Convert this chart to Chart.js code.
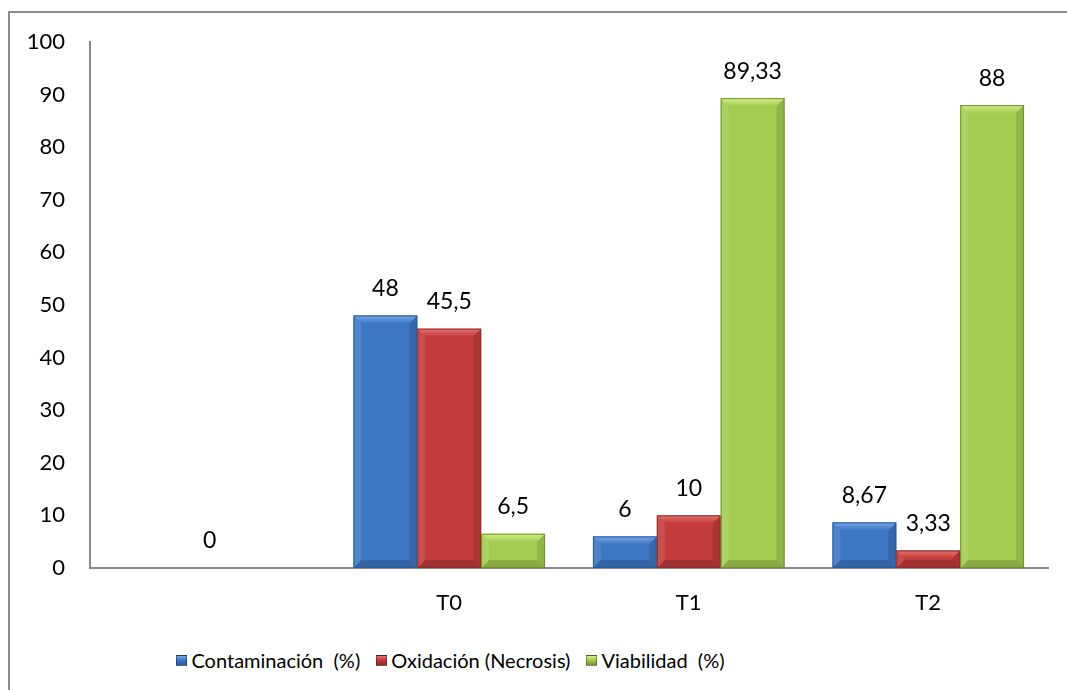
<!DOCTYPE html>
<html lang="es">
<head>
<meta charset="utf-8">
<title>Contaminación, oxidación y viabilidad por tratamiento</title>
<script src="https://cdn.jsdelivr.net/npm/chart.js@4.4.1/dist/chart.umd.min.js"></script>
<style>
  html, body { margin: 0; padding: 0; background: #fff; }
  #wrap { position: relative; width: 1067px; height: 690px; overflow: hidden; font-family: Lato, 'Open Sans', sans-serif; }
  #frame { position: absolute; left: 8px; top: 11px; width: 1100px; height: 720px; border-left: 2px solid #8c8c8c; border-top: 2px solid #8c8c8c; }
  #box { position: absolute; left: 0; top: 0; width: 1067px; height: 640px; }
  #legend { position: absolute; left: 0; top: 648px; width: 1067px; display: flex; justify-content: center; padding-right: 166px; box-sizing: border-box; font-size: 20px; color: #000; }
  #legend .item { display: flex; align-items: center; margin-right: 16px; white-space: pre; }
  #legend .item:last-child { margin-right: 0; }
  #legend i { display: inline-block; width: 11px; height: 11px; margin-right: 4px; border: 1px solid rgba(0,0,0,0.35); box-sizing: border-box; }
</style>
</head>
<body>
<div id="wrap">
  <div id="frame"></div>
  <div id="box"><canvas id="barChart"></canvas></div>
  <div id="legend"></div>
</div>
<script>
// Treatments on the x axis (first slot is the untreated control, unlabeled)
const categories = ['', 'T0', 'T1', 'T2'];

const contaminacion = [null, 48, 6, 8.67];
const oxidacion = [0, 45.5, 10, 3.33];
const viabilidad = [null, 6.5, 89.33, 88];

const seriesNames = ['Contaminación  (%)', 'Oxidación (Necrosis)', 'Viabilidad  (%)'];
const yTicks = { min: 0, max: 100, step: 10 };

const fills = ['#3d76c2', '#c23c3b', '#a5cc52'];
const edges = ['#2b5a96', '#8f2b2a', '#71902f'];
const tops = ['#78aaea', '#e67473', '#d3f088'];

function formatValue(v) {
  return String(v).replace('.', ',');
}

// Excel-like bevel on each bar plus the value label above it
const bevelPlugin = {
  id: 'bevel',
  afterDatasetsDraw(chart) {
    const ctx = chart.ctx;
    chart.data.datasets.forEach((ds, i) => {
      const meta = chart.getDatasetMeta(i);
      meta.data.forEach((bar, j) => {
        const v = ds.data[j];
        if (v === null || v === undefined) return;
        const p = bar.getProps(['x', 'y', 'base', 'width'], true);
        const left = p.x - p.width / 2, right = p.x + p.width / 2;
        const top = p.y, bottom = p.base;
        const h = bottom - top;

        if (h > 0) {
          const b = Math.min(8, h / 2);
          ctx.save();
          // top face
          const g = ctx.createLinearGradient(0, top, 0, top + b);
          g.addColorStop(0, tops[i]);
          g.addColorStop(1, fills[i]);
          ctx.fillStyle = g;
          ctx.beginPath();
          ctx.moveTo(left, top); ctx.lineTo(right, top);
          ctx.lineTo(right - b, top + b); ctx.lineTo(left + b, top + b);
          ctx.closePath(); ctx.fill();
          // bottom face
          ctx.fillStyle = 'rgba(0,0,0,0.16)';
          ctx.beginPath();
          ctx.moveTo(left, bottom); ctx.lineTo(right, bottom);
          ctx.lineTo(right - b, bottom - b); ctx.lineTo(left + b, bottom - b);
          ctx.closePath(); ctx.fill();
          // left face
          ctx.fillStyle = 'rgba(255,255,255,0.10)';
          ctx.beginPath();
          ctx.moveTo(left, top); ctx.lineTo(left + b, top + b);
          ctx.lineTo(left + b, bottom - b); ctx.lineTo(left, bottom);
          ctx.closePath(); ctx.fill();
          // right face
          ctx.fillStyle = 'rgba(0,0,0,0.12)';
          ctx.beginPath();
          ctx.moveTo(right, top); ctx.lineTo(right - b, top + b);
          ctx.lineTo(right - b, bottom - b); ctx.lineTo(right, bottom);
          ctx.closePath(); ctx.fill();
          // outline
          ctx.strokeStyle = edges[i];
          ctx.lineWidth = 1;
          ctx.strokeRect(left + 0.5, top + 0.5, p.width - 1, h - 1);
          ctx.restore();
        }

        ctx.save();
        ctx.fillStyle = '#000';
        ctx.font = '23px Lato';
        ctx.textAlign = 'center';
        ctx.textBaseline = 'middle';
        ctx.fillText(formatValue(v), p.x, top - 27);
        ctx.restore();
      });
    });
  }
};

const ctx = document.getElementById('barChart');
new Chart(ctx, {
  type: 'bar',
  data: {
    labels: categories,
    datasets: [contaminacion, oxidacion, viabilidad].map((d, i) => ({
      label: seriesNames[i],
      data: d,
      backgroundColor: fills[i],
      borderWidth: 0,
      categoryPercentage: 0.8,
      barPercentage: 1.0
    }))
  },
  options: {
    responsive: true,
    maintainAspectRatio: false,
    animation: false,
    layout: { padding: { top: 42, right: 19, left: 0, bottom: 0 } },
    plugins: {
      legend: { display: false },
      tooltip: { enabled: false }
    },
    scales: {
      x: {
        grid: { display: false, drawTicks: false },
        border: { display: true, color: '#8a8a8a', width: 2 },
        ticks: { color: '#000', font: { family: 'Lato', size: 22 }, padding: 22 },
        afterFit(scale) { scale.height = 72; }
      },
      y: {
        min: yTicks.min,
        max: yTicks.max,
        grid: { display: false, drawTicks: false },
        border: { display: true, color: '#8a8a8a', width: 2 },
        ticks: { stepSize: yTicks.step, color: '#000', font: { family: 'Lato', size: 22 }, padding: 25 },
        afterFit(scale) { scale.width = 90; }
      }
    }
  },
  plugins: [bevelPlugin]
});

// Legend below the plot
const legend = document.getElementById('legend');
seriesNames.forEach((name, i) => {
  const item = document.createElement('span');
  item.className = 'item';
  const sw = document.createElement('i');
  sw.style.background = 'linear-gradient(180deg, ' + tops[i] + ' 0%, ' + fills[i] + ' 45%, ' + edges[i] + ' 100%)';
  item.appendChild(sw);
  item.appendChild(document.createTextNode(name));
  legend.appendChild(item);
});
</script>
</body>
</html>
